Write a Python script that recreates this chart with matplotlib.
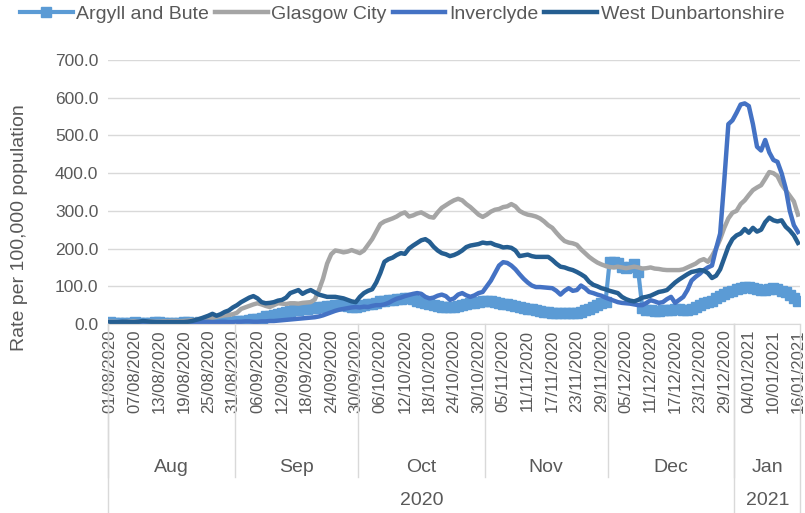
import numpy as np
import pandas as pd
import matplotlib
matplotlib.use("Agg")
import matplotlib.pyplot as plt
from matplotlib.lines import Line2D

plt.rcParams['font.family'] = ['Liberation Sans', 'DejaVu Sans']

# daily rate per 100,000 population, 01/08/2020 - 16/01/2021
dates = pd.date_range('2020-08-01', '2021-01-16', freq='D')

argyll = [5, 4, 4, 3, 3, 4, 5, 4, 3, 3, 4, 5, 5, 4, 3, 3, 4, 4, 5, 5,
          4, 4, 5, 5, 6, 6, 5, 6, 7, 6,
          6, 7, 8, 9, 11, 12, 14, 16, 20, 22,
          24, 27, 29, 31, 34, 36, 38, 40, 41, 42,
          42, 44, 45, 47, 48, 50, 50, 50, 48, 46,
          46, 48, 50, 52, 54, 57, 60, 62, 63, 64,
          65, 66, 68, 70, 66, 62, 58, 55, 52, 50,
          48, 46, 45, 45, 46, 48, 50, 52, 55, 57,
          58, 60, 60, 60, 58, 56, 54, 52, 50, 48,
          45, 43, 41, 39, 37, 35, 33, 31, 30, 29,
          28, 28, 28, 28, 30, 33, 36, 40, 45, 50,
          55, 58, 165, 165, 163, 150, 148, 150, 158, 138,
          42, 38, 36, 35, 35, 36, 37, 38, 40, 40,
          38, 37, 40, 45, 50, 55, 58, 62, 68, 75,
          80, 85, 88, 92, 95, 97, 98, 95, 92, 90,
          90, 94, 95, 92, 88, 84, 78, 70, 62]

glasgow = [6, 6, 5, 5, 6, 6, 7, 6, 6, 7, 7, 6, 6, 7, 7, 8, 8, 7, 8, 9,
           10, 11, 13, 14, 16, 17, 19, 21, 23, 24,
           26, 30, 40, 44, 48, 52, 55, 52, 48, 45,
           50, 55, 54, 53, 55, 55, 54, 56, 57, 58,
           65, 90, 120, 160, 185, 195, 193, 190, 192, 196,
           192, 188, 195, 210, 225, 245, 265, 272, 276, 280,
           285, 292, 296, 285, 288, 293, 296, 290, 284, 282,
           296, 308, 315, 322, 328, 332, 328, 318, 310, 300,
           290, 284, 290, 298, 303, 305, 310, 312, 318, 312,
           300, 294, 290, 288, 285, 280, 272, 262, 255, 242,
           230, 220, 216, 214, 210, 198, 188, 178, 170, 163,
           158, 154, 151, 150, 152, 150, 148, 150, 152, 150,
           147, 148, 150, 147, 146, 144, 143, 143, 143, 143,
           145, 150, 155, 160, 168, 172, 165, 180, 200, 225,
           255, 280, 295, 300, 318, 328, 342, 355, 362, 368,
           385, 403, 400, 392, 370, 355, 340, 325, 290]

inverclyde = [4, 4, 5, 5, 4, 4, 5, 5, 4, 4, 5, 5, 4, 4, 5, 5, 5, 5, 5, 5,
              5, 5, 6, 6, 6, 5, 5, 6, 6, 5,
              5, 6, 6, 7, 7, 6, 6, 7, 7, 8,
              8, 9, 10, 11, 12, 13, 14, 15, 16, 17,
              18, 20, 23, 27, 31, 35, 38, 40, 42, 44,
              45, 44, 46, 45, 48, 50, 50, 52, 56, 62,
              67, 70, 74, 77, 80, 82, 80, 72, 68, 70,
              75, 78, 74, 64, 68, 78, 82, 76, 72, 76,
              82, 85, 100, 115, 135, 155, 164, 162, 155, 145,
              132, 120, 110, 102, 98, 98, 97, 96, 95, 88,
              78, 88, 95, 88, 90, 102, 95, 85, 82, 78,
              75, 70, 66, 62, 58, 56, 55, 54, 52, 50,
              50, 56, 63, 60, 56, 58, 66, 72, 56, 64,
              72, 90, 115, 125, 133, 143, 150, 155, 200, 240,
              380, 530, 540, 560, 582, 585, 578, 530, 470, 460,
              488, 455, 435, 430, 400, 360, 300, 262, 244]

west_dunb = [5, 5, 5, 6, 6, 5, 5, 6, 8, 7, 6, 5, 5, 5, 5, 5, 5, 5, 5, 6,
             8, 11, 14, 18, 22, 27, 22, 26, 32, 36,
             44, 50, 58, 64, 70, 74, 68, 58, 55, 56,
             58, 62, 64, 70, 82, 86, 90, 80, 86, 90,
             84, 78, 75, 72, 72, 72, 70, 68, 64, 60,
             58, 72, 82, 88, 92, 110, 135, 165, 172, 176,
             183, 188, 186, 200, 208, 215, 222, 225, 218, 205,
             195, 188, 185, 180, 183, 188, 195, 204, 208, 210,
             212, 216, 214, 215, 210, 207, 203, 204, 202, 195,
             180, 182, 184, 180, 178, 178, 178, 178, 170, 160,
             152, 150, 146, 143, 138, 132, 125, 112, 104, 100,
             95, 92, 88, 85, 82, 72, 66, 62, 60, 64,
             70, 72, 75, 80, 85, 87, 90, 100, 110, 118,
             125, 132, 138, 140, 143, 142, 135, 122, 128, 145,
             175, 205, 225, 235, 240, 252, 242, 255, 245, 250,
             270, 282, 275, 272, 275, 258, 248, 235, 215]

names = ['Argyll and Bute', 'Glasgow City', 'Inverclyde', 'West Dunbartonshire']
colors = ['#5B9BD5', '#A5A5A5', '#4472C4', '#255E91']
txt = '#595959'

x = np.arange(len(dates))

fig = plt.figure(figsize=(8.05, 5.13), dpi=100)
ax = fig.add_axes([0.1342, 0.3684, 0.8596, 0.5146])

ax.plot(x, argyll, color=colors[0], lw=3, marker='s', ms=7.5, mec=colors[0])
ax.plot(x, glasgow, color=colors[1], lw=3.2)
ax.plot(x, inverclyde, color=colors[2], lw=3.2)
ax.plot(x, west_dunb, color=colors[3], lw=3.2)

ax.set_xlim(-0.5, len(x) - 0.5)
ax.set_ylim(0, 700)
ax.set_yticks(np.arange(0, 701, 100))
ax.set_yticklabels([f'{v:.1f}' for v in range(0, 701, 100)])
ax.yaxis.grid(True, color='#D9D9D9', lw=1)
ax.set_axisbelow(True)
for s in ['top', 'right', 'left']:
    ax.spines[s].set_visible(False)
ax.spines['bottom'].set_color('#D9D9D9')
ax.tick_params(axis='y', length=0, pad=7, labelsize=12.5, labelcolor=txt)

ax.set_xticks(x[::6])
ax.set_xticklabels([d.strftime('%d/%m/%Y') for d in dates[::6]], rotation=90)
ax.tick_params(axis='x', length=0, pad=4, labelsize=12, labelcolor=txt)

# month and year groups under the date labels
trans = ax.get_xaxis_transform()
months = pd.Series(x, index=dates).groupby([dates.year, dates.month])
for (yr, mo), idx in months:
    a, b = idx.iloc[0] - 0.5, idx.iloc[-1] + 0.5
    ax.text((a + b) / 2, -0.542, dates[idx.iloc[0]].strftime('%b'), transform=trans,
            ha='center', va='center', fontsize=14, color=txt)
    ax.plot([a, a], [0, -0.58], transform=trans, color='#D9D9D9', lw=1, clip_on=False)

years = pd.Series(x, index=dates).groupby(dates.year)
for yr, idx in years:
    a, b = idx.iloc[0] - 0.5, idx.iloc[-1] + 0.5
    ax.text((a + b) / 2, -0.667, str(yr), transform=trans,
            ha='center', va='center', fontsize=14, color=txt)
    ax.plot([a, a], [0, -0.72], transform=trans, color='#D9D9D9', lw=1, clip_on=False)
ax.plot([x[-1] + 0.5] * 2, [0, -0.72], transform=trans, color='#D9D9D9', lw=1, clip_on=False)

fig.text(20 / 805, 1 - 228 / 513, 'Rate per 100,000 population', rotation=90,
         ha='center', va='center', fontsize=14, color=txt)

handles = [Line2D([], [], color=colors[0], lw=3, marker='s', ms=7.5, markevery=[1]),
           Line2D([], [], color=colors[1], lw=3.2),
           Line2D([], [], color=colors[2], lw=3.2),
           Line2D([], [], color=colors[3], lw=3.2)]
fig.legend(handles, names, loc='center left', bbox_to_anchor=(20 / 805, 1 - 14 / 513),
           ncol=4, frameon=False, fontsize=14, labelcolor=txt, handlelength=2.7,
           handletextpad=0.2, columnspacing=0.3, borderpad=0, borderaxespad=0)

fig.savefig('out.png', dpi=100)
